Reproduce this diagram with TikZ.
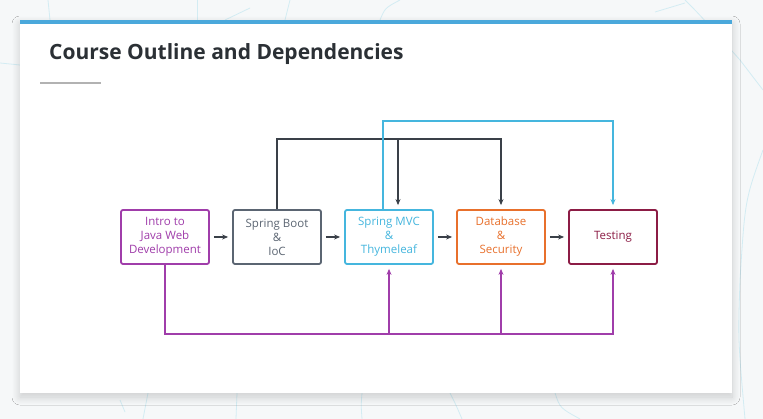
\documentclass[tikz,border=0pt]{standalone}
\usepackage{fontspec}
\setmainfont{Open Sans}
\usetikzlibrary{arrows.meta,calc,shadows.blur}
\definecolor{bgc}{HTML}{F6F8F9}
\definecolor{bgline}{HTML}{D3ECF3}
\definecolor{topbar}{HTML}{4AA8DB}
\definecolor{titlec}{HTML}{2B3035}
\definecolor{cpurple}{HTML}{A03DAA}
\definecolor{cgray}{HTML}{5B6572}
\definecolor{cblue}{HTML}{45B6DE}
\definecolor{corange}{HTML}{E8702C}
\definecolor{cred}{HTML}{8C1C45}
\definecolor{cconn}{HTML}{3A4048}
\tikzset{
  box/.style={draw=#1, text=#1, line width=1.8pt, rounded corners=2pt, minimum width=88pt, minimum height=54pt,
    align=center, font=\fontsize{11.5}{14}\selectfont, fill=white, inner sep=2pt},
  tip/.style={-{Stealth[length=6pt,width=5pt]}},
  harr/.style={tip, cconn, line width=1.2pt, shorten >=4pt, shorten <=4pt},
  conn/.style={line width=1.5pt},
  bgl/.style={bgline, line width=0.8pt}
}
\begin{document}
\begin{tikzpicture}[x=1pt,y=-1pt]
\useasboundingbox (0,0) rectangle (763,419);
\fill[bgc] (0,0) rectangle (763,419);
% faint background lines
\draw[bgl] (48,0) -- (50,20);
\draw[bgl] (197,0) -- (197,20);
\draw[bgl] (290,0) .. controls (288,8) .. (285,20);
\draw[bgl] (380,20) .. controls (385,8) .. (400,0);
\draw[bgl] (225,20) -- (250,8);
\draw[bgl] (655,12) -- (685,3);
\draw[bgl] (685,0) .. controls (700,15) .. (740,60) .. controls (752,75) .. (763,90);
\draw[bgl] (763,150) .. controls (745,200) .. (740,280) .. controls (738,340) .. (745,419);
\draw[bgl] (0,63) -- (20,65);
\draw[bgl] (148,393) -- (143,419);
\draw[bgl] (237,393) -- (236,419);
\draw[bgl] (362,393) .. controls (361,405) .. (362,419);
\draw[bgl] (450,393) .. controls (456,405) .. (462,419);
\draw[bgl] (555,393) .. controls (560,408) .. (580,419);
\draw[bgl] (120,400) -- (125,412);
% card
\fill[white, blur shadow={shadow blur steps=15, shadow xshift=0pt, shadow yshift=-4pt, shadow blur radius=8pt, shadow opacity=18}]
  (20,20) rectangle (732,393);
\fill[topbar] (20,20) rectangle (732,24.5);
% title
\node[anchor=base west, inner sep=0pt, text=titlec, font=\fontsize{21}{25}\selectfont\bfseries] (title) at (49,60) {Course Outline and Dependencies};
\draw[line width=1.3pt, black!30] (40,83) -- (101,83);
% boxes
\node[box=cpurple] (intro) at (165,237) {Intro to\\Java Web\\Development};
\node[box=cgray] (boot) at (277,237) {Spring Boot\\\&\\IoC};
\node[box=cblue] (mvc) at (389,237) {Spring MVC\\\&\\Thymeleaf};
\node[box=corange] (db) at (501,237) {Database\\\&\\Security};
\node[box=cred] (test) at (613,237) {Testing};
% horizontal arrows
\draw[harr] (intro) -- (boot);
\draw[harr] (boot) -- (mvc);
\draw[harr] (mvc) -- (db);
\draw[harr] (db) -- (test);
% coordinates
\coordinate (gy) at (0,139);
\coordinate (by) at (0,121);
\coordinate (py) at (0,334);
\coordinate (mvcg) at ($(mvc.north)+(9,0)$);
\coordinate (mvcb) at ($(mvc.north)+(-6,0)$);
% gray dependencies
\draw[conn, cconn, tip, shorten >=4pt] (boot.north) |- (gy -| db.north) -- (db.north);
\draw[conn, cconn, tip, shorten >=4pt] (gy -| mvcg) -- (mvcg);
% blue dependency
\draw[conn, cblue, tip, shorten >=4pt] (mvcb) |- (by -| test.north) -- (test.north);
% purple dependencies
\draw[conn, cpurple, tip, shorten >=4pt] (intro.south) |- (py -| test.south) -- (test.south);
\draw[conn, cpurple, tip, shorten >=4pt] (py -| mvc.south) -- (mvc.south);
\draw[conn, cpurple, tip, shorten >=4pt] (py -| db.south) -- (db.south);
\end{tikzpicture}
\end{document}
